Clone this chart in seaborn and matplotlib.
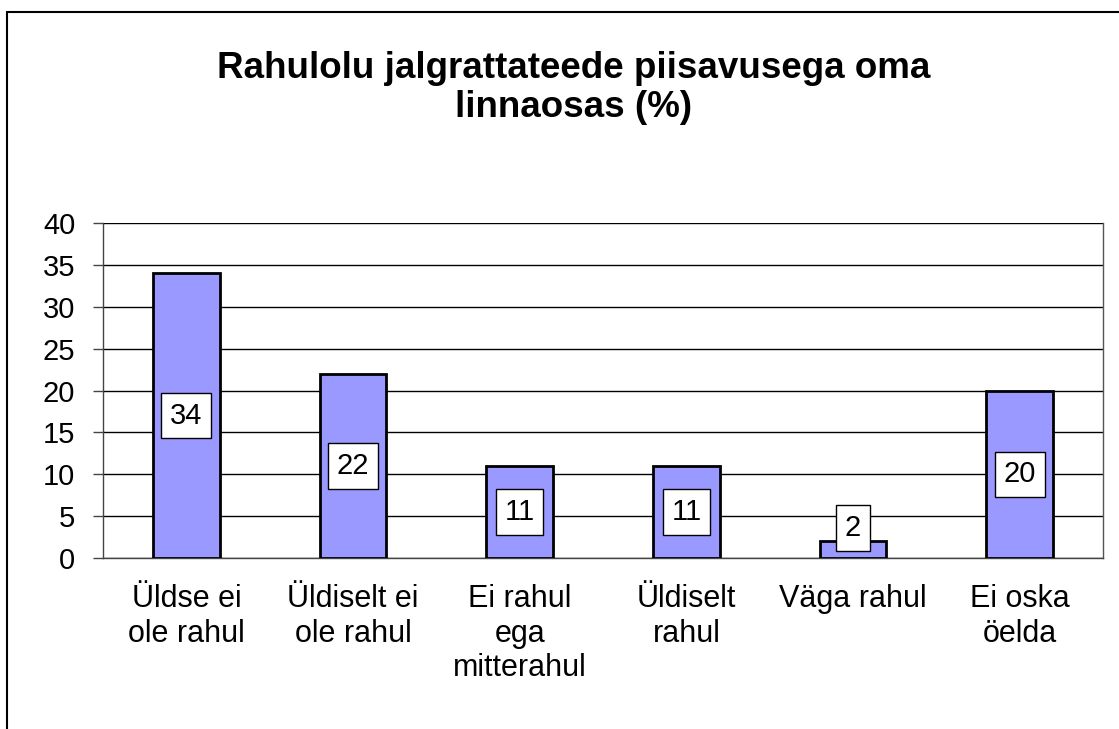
import matplotlib
matplotlib.use("Agg")
import matplotlib.pyplot as plt
from matplotlib.lines import Line2D
import pandas as pd
import seaborn as sns

categories = [
    "Üldse ei\nole rahul",
    "Üldiselt ei\nole rahul",
    "Ei rahul\nega\nmitterahul",
    "Üldiselt\nrahul",
    "Väga rahul",
    "Ei oska\nöelda",
]
values = [34, 22, 11, 11, 2, 20]
y_ticks = [0, 5, 10, 15, 20, 25, 30, 35, 40]
title = "Rahulolu jalgrattateede piisavusega oma\nlinnaosas (%)"

df = pd.DataFrame({"category": categories, "value": values})

sns.set_theme(style="white")
plt.rcParams["font.family"] = ["Liberation Sans", "DejaVu Sans"]
plt.rcParams["text.color"] = "black"

W, H = 1119, 729
fig = plt.figure(figsize=(W / 100, H / 100), dpi=100)
ax = fig.add_axes([103 / W, 1 - 558 / H, 1000 / W, 335 / H])

sns.barplot(
    data=df,
    x="category",
    y="value",
    color="#9999FF",
    saturation=1,
    width=0.4,
    edgecolor="black",
    linewidth=2,
    ax=ax,
    zorder=3,
)

ax.set_ylim(0, 40)
ax.set_xlim(-0.5, len(categories) - 0.5)
ax.set_yticks(y_ticks)
ax.set_yticklabels([str(t) for t in y_ticks], fontsize=21, color="black")
ax.yaxis.grid(True, color="black", linewidth=1)
ax.set_axisbelow(True)
ax.set_xlabel("")
ax.set_ylabel("")

# category labels without ticks, ticks between categories
ax.tick_params(axis="x", which="major", length=0, labelsize=22,
               labelcolor="black", pad=19)
for lbl in ax.get_xticklabels():
    lbl.set_linespacing(1.18)
ax.set_xticks([i - 0.5 for i in range(len(categories) + 1)], minor=True)
ax.tick_params(axis="x", which="minor", length=7, width=1, color="#444444")
ax.tick_params(axis="y", length=7, width=1, color="#444444", pad=13, left=True)

ax.spines["top"].set_visible(False)
ax.spines["left"].set_color("#444444")
ax.spines["right"].set_color("#555555")
ax.spines["bottom"].set_color("#444444")
for s in ["left", "right", "bottom"]:
    ax.spines[s].set_linewidth(1)

# value labels in white boxes
for patch, v in zip(ax.patches, values):
    cx = patch.get_x() + patch.get_width() / 2
    cy = max(v / 2, 3.6)
    ax.text(
        cx, cy, str(v),
        ha="center", va="center", fontsize=21, zorder=5, color="black",
        bbox=dict(boxstyle="square,pad=0.3", facecolor="white",
                  edgecolor="black", linewidth=1),
    )

fig.text(574 / W, 1 - 88 / H, title, ha="center", va="center",
         fontsize=26.5, fontweight="bold", linespacing=1.15, color="black")

# chart border (cropped at right and bottom)
fig.add_artist(Line2D([7 / W, 7 / W], [0, 1 - 12 / H], color="black", linewidth=1.5))
fig.add_artist(Line2D([7 / W, 1], [1 - 12 / H, 1 - 12 / H], color="black", linewidth=1.5))

fig.savefig("out.png", dpi=100)
